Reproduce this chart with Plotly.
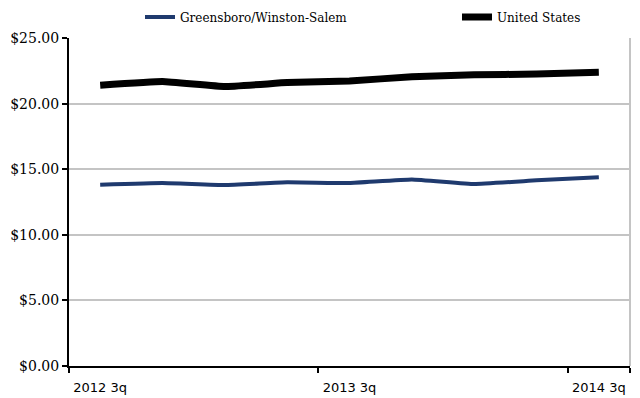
import plotly.graph_objects as go

# Quarterly average wage, 2012 3q through 2014 3q
quarters = ["2012 3q", "2012 4q", "2013 1q", "2013 2q", "2013 3q",
            "2013 4q", "2014 1q", "2014 2q", "2014 3q"]
greensboro = [13.82, 13.95, 13.80, 14.00, 13.95, 14.22, 13.87, 14.15, 14.38]
united_states = [21.40, 21.68, 21.30, 21.60, 21.72, 22.05, 22.20, 22.25, 22.38]

x_labels = ["2012 3q", "2013 3q", "2014 3q"]
y_ticks = [0, 5, 10, 15, 20, 25]

serif = "DejaVu Serif"

fig = go.Figure()
fig.add_trace(go.Scatter(
    x=quarters, y=greensboro, mode="lines", name="Greensboro/Winston-Salem",
    line=dict(color="#1f3a6e", width=4, shape="spline", smoothing=0.3),
    legend="legend",
))
fig.add_trace(go.Scatter(
    x=quarters, y=united_states, mode="lines", name="United States",
    line=dict(color="#000000", width=7, shape="spline", smoothing=0.3),
    legend="legend2",
))

legend_style = dict(
    orientation="h", xref="container", yref="container",
    xanchor="left", y=0.957, yanchor="middle",
    font=dict(family=serif, size=12, color="#000"),
    bgcolor="rgba(0,0,0,0)", borderwidth=0,
)

fig.update_layout(
    width=640, height=398,
    margin=dict(l=69, r=10, t=38, b=32, autoexpand=False),
    paper_bgcolor="white", plot_bgcolor="white",
    showlegend=True,
    legend=dict(legend_style, x=140 / 640),
    legend2=dict(legend_style, x=457 / 640),
    xaxis=dict(
        type="category", categoryorder="array", categoryarray=quarters,
        range=[-0.5, 8.5],
        tickmode="array", tickvals=x_labels, ticktext=x_labels,
        tickson="boundaries", ticks="outside", ticklen=5, tickwidth=2,
        tickcolor="#000", tickangle=0, automargin=False,
        ticklabelstandoff=8,
        showline=True, linecolor="#000", linewidth=2,
        showgrid=False, zeroline=False,
        tickfont=dict(family="DejaVu Sans", size=13, color="#000"),
    ),
    yaxis=dict(
        range=[0, 25], tickmode="array", tickvals=y_ticks,
        tickformat="$.2f", automargin=False,
        ticks="outside", ticklen=5, tickwidth=2, tickcolor="#000",
        showline=True, linecolor="#000", linewidth=2,
        showgrid=True, gridcolor="#c4c4c4", gridwidth=2,
        zeroline=False,
        tickfont=dict(family=serif, size=14, color="#000"),
    ),
    shapes=[dict(
        type="line", xref="paper", yref="paper", x0=1, x1=1, y0=0, y1=1,
        line=dict(color="#c4c4c4", width=2), layer="below",
    )],
)

fig.write_html("out.html")
